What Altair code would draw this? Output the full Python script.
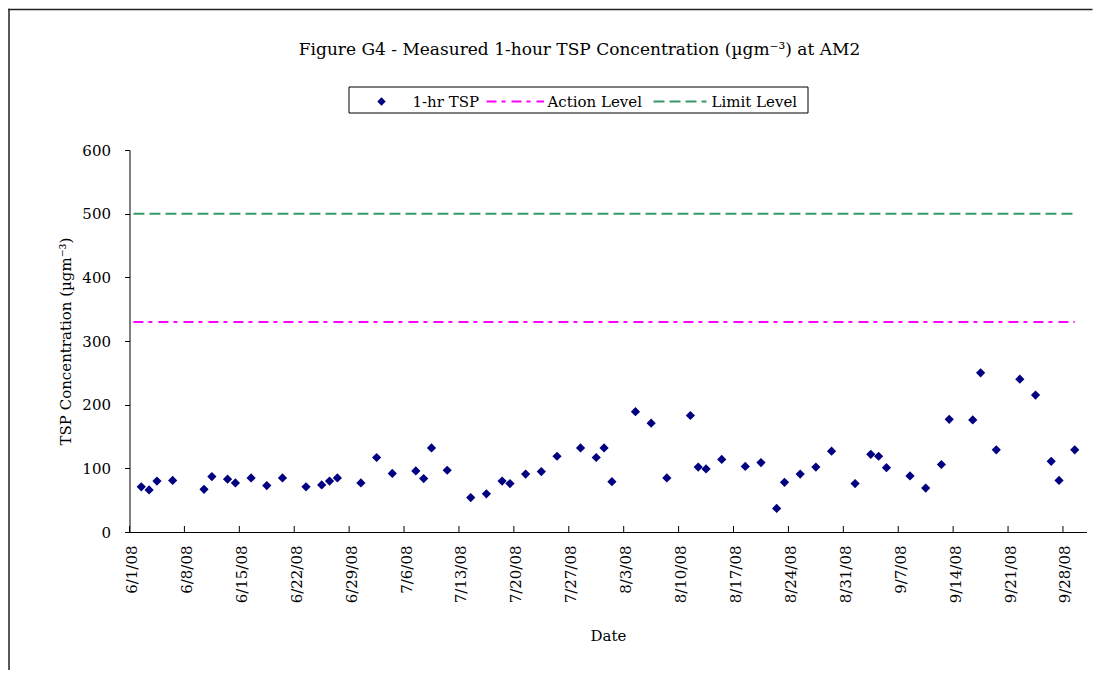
import altair as alt
import pandas as pd

# ---------------- data ----------------
dates = [
    "2008-06-02", "2008-06-03", "2008-06-04", "2008-06-06", "2008-06-10", "2008-06-11",
    "2008-06-13", "2008-06-14", "2008-06-16", "2008-06-18", "2008-06-20", "2008-06-23",
    "2008-06-25", "2008-06-26", "2008-06-27", "2008-06-30", "2008-07-02", "2008-07-04",
    "2008-07-07", "2008-07-08", "2008-07-09", "2008-07-11", "2008-07-14", "2008-07-16",
    "2008-07-18", "2008-07-19", "2008-07-21", "2008-07-23", "2008-07-25", "2008-07-28",
    "2008-07-30", "2008-07-31", "2008-08-01", "2008-08-04", "2008-08-06", "2008-08-08",
    "2008-08-11", "2008-08-12", "2008-08-13", "2008-08-15", "2008-08-18", "2008-08-20",
    "2008-08-22", "2008-08-23", "2008-08-25", "2008-08-27", "2008-08-29", "2008-09-01",
    "2008-09-03", "2008-09-04", "2008-09-05", "2008-09-08", "2008-09-10", "2008-09-12",
    "2008-09-13", "2008-09-16", "2008-09-17", "2008-09-19", "2008-09-22", "2008-09-24",
    "2008-09-26", "2008-09-27", "2008-09-29",
]
tsp = [
    71, 66, 80, 81, 67, 87,
    83, 77, 85, 73, 85, 71,
    74, 80, 85, 77, 117, 92,
    96, 84, 132, 97, 54, 60,
    80, 76, 91, 95, 119, 132,
    117, 132, 79, 189, 171, 85,
    183, 102, 99, 114, 103, 109,
    37, 78, 91, 102, 127, 76,
    122, 119, 101, 88, 69, 106,
    177, 176, 250, 129, 240, 215,
    111, 81, 129,
]
action_level = 330
limit_level = 500
level_dates = ["2008-06-01", "2008-09-29"]
tick_dates = list(pd.date_range("2008-06-01", "2008-09-28", freq="7D"))
y_ticks = [0, 100, 200, 300, 400, 500, 600]

title_text = "Figure G4 - Measured 1-hour TSP Concentration (\u00b5gm\u207b\u00b3) at AM2"
y_title = "TSP Concentration (\u00b5gm\u207b\u00b3)"
x_title = "Date"
legend_labels = ["1-hr TSP", "Action Level", "Limit Level"]

FONT = "DejaVu Serif"
NAVY = "#000080"
MAGENTA = "#FF00FF"
GREEN = "#339966"

# Excel date axis: each day occupies a slot, points sit in the middle of the day
half_day = pd.Timedelta(hours=12)
df = pd.DataFrame({"date": pd.to_datetime(dates) + half_day, "tsp": tsp})
lv = pd.DataFrame({
    "start": [pd.Timestamp(level_dates[0]) + half_day] * 2,
    "end": [pd.Timestamp(level_dates[1]) + half_day] * 2,
    "value": [action_level, limit_level],
    "series": ["Action Level", "Limit Level"],
})
ticks_df = pd.DataFrame({"date": tick_dates})

W, H = 957, 382
PAD_BOTTOM = 138
PAD_RIGHT = 6

xscale = alt.Scale(domain=[alt.DateTime(year=2008, month=6, date=1),
                           alt.DateTime(year=2008, month=10, date=1)])
yscale = alt.Scale(domain=[0, 600], nice=False)

xaxis = alt.Axis(
    values=[alt.DateTime(year=d.year, month=d.month, date=d.day) for d in tick_dates],
    format="%-m/%-d/%y", labelAngle=-90, ticks=False, tickSize=0, labelPadding=13,
    labelOffset=2, grid=False, domainColor="black", domainWidth=1,
    labelFont=FONT, labelFontSize=15, labelColor="black",
    title=x_title, titleFont=FONT, titleFontSize=15, titleFontWeight="normal",
    titleColor="black", titleX=W / 2, titleY=103, titleBaseline="middle",
    titleAlign="center", labelFlush=False, labelOverlap=False,
)
yaxis = alt.Axis(
    values=y_ticks, tickSize=5, tickColor="black", labelPadding=14, grid=False,
    domainColor="black", domainWidth=1, labelFont=FONT, labelFontSize=15,
    labelColor="black", title=y_title, titleFont=FONT, titleFontSize=15,
    titleFontWeight="normal", titleColor="black", titleX=-64, titleY=H / 2,
    titleAngle=-90, titleAlign="center", titleBaseline="middle",
)

points = alt.Chart(df).mark_point(
    shape="diamond", filled=True, size=85, color=NAVY, opacity=1
).encode(
    x=alt.X("date:T", scale=xscale, axis=xaxis),
    y=alt.Y("tsp:Q", scale=yscale, axis=yaxis),
)

action = alt.Chart(lv[lv.series == "Action Level"]).mark_rule(
    color=MAGENTA, strokeWidth=2, strokeDash=[10, 5, 4, 6]
).encode(x=alt.X("start:T", scale=xscale), x2="end:T", y=alt.Y("value:Q", scale=yscale))

limit = alt.Chart(lv[lv.series == "Limit Level"]).mark_rule(
    color=GREEN, strokeWidth=2, strokeDash=[11, 5]
).encode(x=alt.X("start:T", scale=xscale), x2="end:T", y=alt.Y("value:Q", scale=yscale))

# inward pointing ticks of the date axis
xticks = alt.Chart(ticks_df).mark_rule(color="black", strokeWidth=1).encode(
    x=alt.X("date:T", scale=xscale), y=alt.value(H - 6), y2=alt.value(H)
)

one = alt.Data(values=[{}])

# outer frame: only its left and top edges are visible in the picture
frame_left = alt.Chart(one).mark_rule(color="#222222", strokeWidth=1.5).encode(
    x=alt.value(-120.5), y=alt.value(-141.25), y2=alt.value(H + PAD_BOTTOM)
)
frame_top = alt.Chart(one).mark_rule(color="#222222", strokeWidth=1.5).encode(
    x=alt.value(-121.25), x2=alt.value(W + PAD_RIGHT), y=alt.value(-140.5)
)

title = alt.Chart(one).mark_text(
    text=title_text, font=FONT, fontSize=17, color="black", align="center",
    baseline="alphabetic"
).encode(x=alt.value(450), y=alt.value(-95))

legend_box = alt.Chart(one).mark_rect(
    filled=False, stroke="black", strokeWidth=1
).encode(x=alt.value(219.5), x2=alt.value(678.5), y=alt.value(-63), y2=alt.value(-37))

legend_diamond = alt.Chart(one).mark_point(
    shape="diamond", filled=True, size=70, color=NAVY, opacity=1
).encode(x=alt.value(252), y=alt.value(-48.5))

legend_action = alt.Chart(one).mark_rule(
    color=MAGENTA, strokeWidth=2, strokeDash=[10, 5, 4, 6]
).encode(x=alt.value(357), x2=alt.value(414.5), y=alt.value(-48.5))

legend_limit = alt.Chart(one).mark_rule(
    color=GREEN, strokeWidth=2, strokeDash=[11, 5]
).encode(x=alt.value(524), x2=alt.value(577), y=alt.value(-48.5))

legend_texts = [
    alt.Chart(one).mark_text(
        text=lab, font=FONT, fontSize=15, color="black", align="left",
        baseline="alphabetic"
    ).encode(x=alt.value(xp), y=alt.value(-43.5))
    for lab, xp in zip(legend_labels, [283, 418, 582])
]

chart = alt.layer(
    frame_left, frame_top, limit, action, points, xticks, title, legend_box,
    legend_diamond, legend_action, legend_limit, *legend_texts
).properties(
    width=W, height=H, autosize="none",
    padding={"left": 121.5, "top": 142, "right": PAD_RIGHT, "bottom": PAD_BOTTOM},
    background="white",
).configure_view(stroke=None)

chart.save("out.html", embed_options={"renderer": "svg", "actions": False})
